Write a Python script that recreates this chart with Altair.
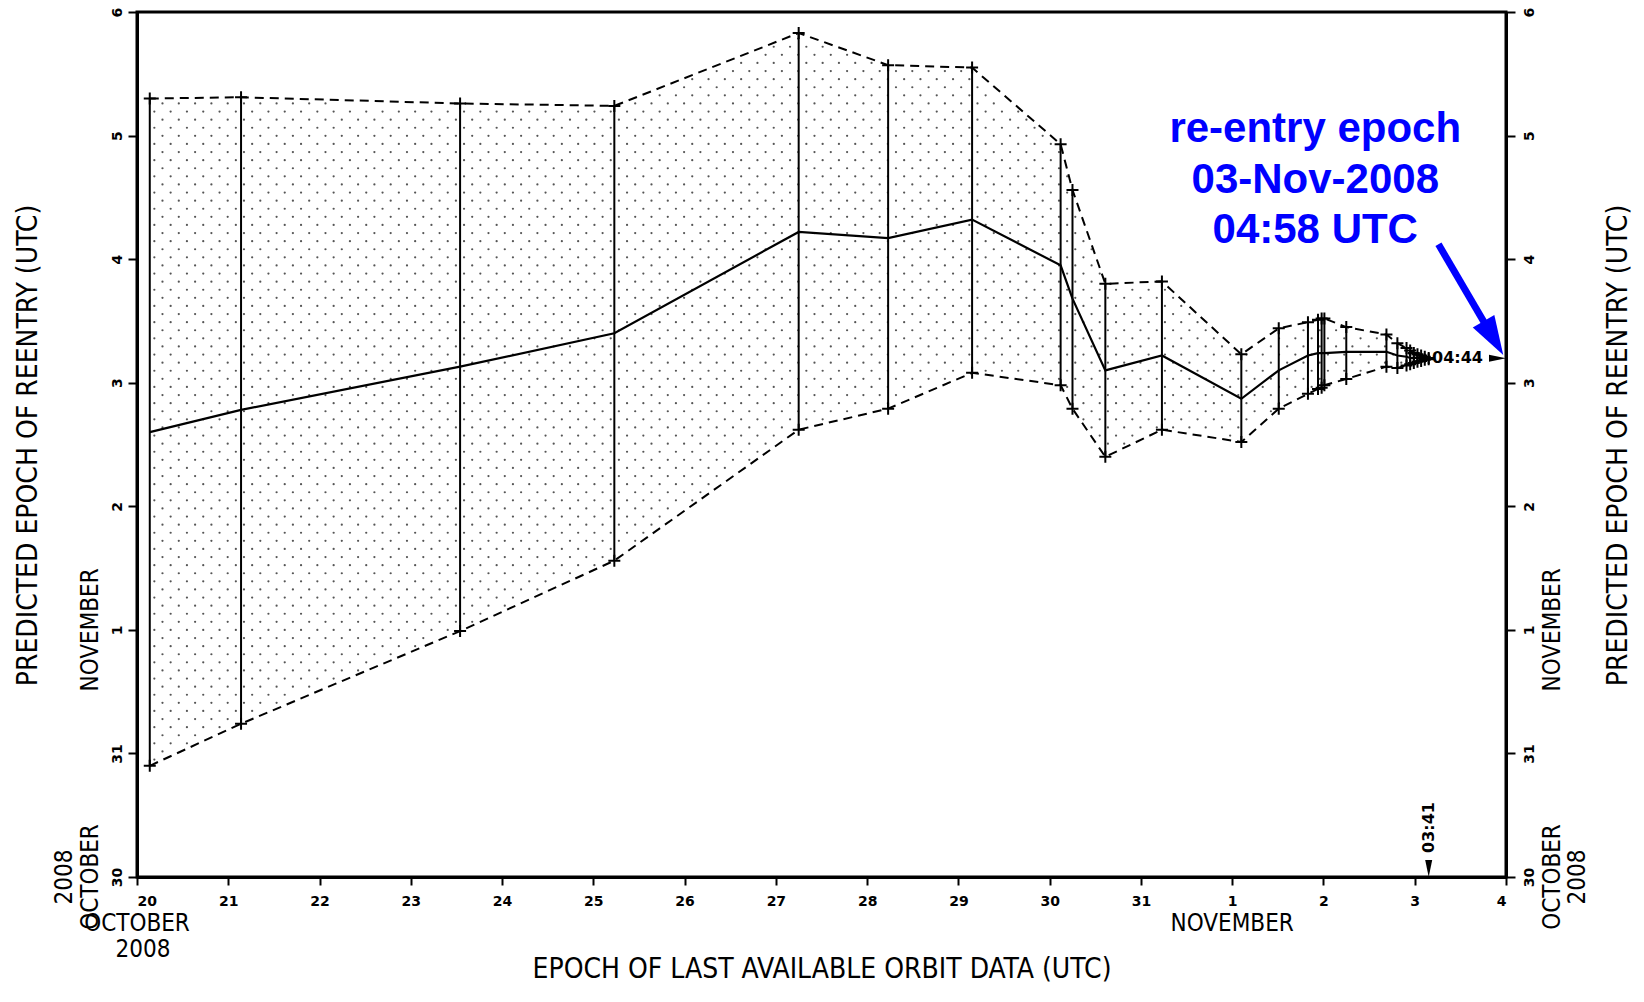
import json
import numpy as np
import pandas as pd
import altair as alt

# ---------------- data (x: days since 20 Oct 2008, y: days since 30 Oct 2008) ----------------
days  = [0.14, 1.14, 3.54, 5.23, 7.25, 8.23, 9.15, 10.12, 10.25, 10.61, 11.23, 12.10, 12.51,
         12.83, 12.94, 12.98, 13.01, 13.25, 13.69, 13.81, 13.91, 13.95, 13.99, 14.03, 14.07, 14.11, 14.153]
lower = [0.90, 1.24, 1.99, 2.56, 3.62, 3.79, 4.08, 3.98, 3.79, 3.40, 3.62, 3.52, 3.79,
         3.91, 3.95, 3.96, 3.98, 4.03, 4.13, 4.12, 4.14, 4.15, 4.16, 4.17, 4.175, 4.185, 4.19]
mean  = [3.60, 3.78, 4.13, 4.40, 5.22, 5.17, 5.32, 4.95, 4.68, 4.10, 4.22, 3.87, 4.10,
         4.22, 4.24, 4.24, 4.24, 4.25, 4.25, 4.22, 4.21, 4.20, 4.20, 4.20, 4.20, 4.20, 4.197]
upper = [6.30, 6.31, 6.26, 6.24, 6.83, 6.57, 6.55, 5.93, 5.56, 4.80, 4.82, 4.23, 4.44,
         4.49, 4.51, 4.52, 4.52, 4.45, 4.39, 4.32, 4.28, 4.26, 4.24, 4.23, 4.22, 4.21, 4.20]

x_tick_labels = ["20", "21", "22", "23", "24", "25", "26", "27", "28", "29", "30", "31", "1", "2", "3", "4"]
y_tick_labels = ["30", "31", "1", "2", "3", "4", "5", "6"]

last_epoch = 14.153      # 03-Nov 03:41
last_epoch_label = "03:41"
last_pred = 4.197        # 03-Nov 04:44
last_pred_label = "04:44"

annotation_lines = ["re-entry epoch", "03-Nov-2008", "04:58 UTC"]
annotation_pos = [12.91, 6.05]
arrow_start = [14.26, 5.12]
arrow_tip = [14.97, 4.225]

# ---------------- layout ----------------
W, H = 1369, 865
X_MAX, Y_MAX = 15, 7
px_x = W / X_MAX
px_y = H / Y_MAX

TITLE_FONT = "DejaVu Sans Condensed, Liberation Sans Narrow, DejaVu Sans, sans-serif"
NUM_FONT = "DejaVu Sans"

xscale = alt.Scale(domain=[0, X_MAX], nice=False, zero=False)
yscale = alt.Scale(domain=[0, Y_MAX], nice=False, zero=False)

x_axis = alt.Axis(
    orient="bottom",
    values=list(range(16)),
    labelExpr=json.dumps(x_tick_labels) + "[datum.value]",
    title="EPOCH OF LAST AVAILABLE ORBIT DATA (UTC)",
    titleFont=TITLE_FONT, titleFontSize=28, titleFontWeight="normal", titleColor="black",
    titleBaseline="alphabetic", titleAlign="center", titleX=W / 2, titleY=100,
    labelFont=NUM_FONT, labelFontSize=14, labelFontWeight="bold", labelColor="black",
    labelPadding=9, tickSize=8, tickWidth=2, tickColor="black",
    domainColor="black", domainWidth=3, grid=False,
)


def XE(field):
    return alt.X(field, type="quantitative", scale=xscale, axis=x_axis)


def YE(field, axis=None):
    return alt.Y(field, type="quantitative", scale=yscale, axis=axis)


def y_axis(orient):
    left = orient == "left"
    return alt.Axis(
        orient=orient,
        values=list(range(8)),
        labelExpr=json.dumps(y_tick_labels) + "[datum.value]",
        labelAngle=270, labelAlign="center",
        labelBaseline="alphabetic" if left else "top",
        labelPadding=7,
        labelFont=NUM_FONT, labelFontSize=14, labelFontWeight="bold", labelColor="black",
        tickSize=9, tickWidth=2, tickColor="black",
        domainColor="black", domainWidth=3, grid=False,
        title="PREDICTED EPOCH OF REENTRY (UTC)",
        titleFont=TITLE_FONT, titleFontSize=28, titleFontWeight="normal", titleColor="black",
        titleAngle=270, titleAlign="center", titleBaseline="middle",
        titleX=-109 if left else 112, titleY=433,
    )


df = pd.DataFrame({"x": days, "lo": lower, "mid": mean, "hi": upper})

# dotted fill texture between the upper and lower envelopes
dot_dx = 16.3 / px_x
dot_dy = 8.1 / px_y
gx, gy = [], []
row = 0
yv = dot_dy / 2
while yv < Y_MAX:
    xv = days[0] + 0.05 + (row % 2) * dot_dx / 2
    while xv < days[-1]:
        lo = np.interp(xv, days, lower)
        hi = np.interp(xv, days, upper)
        if lo + 0.03 < yv < hi - 0.03:
            gx.append(xv)
            gy.append(yv)
        xv += dot_dx
    yv += dot_dy
    row += 1
dots_df = pd.DataFrame({"x": gx, "y": gy})

base = alt.Chart(df)

dots = alt.Chart(dots_df).mark_circle(size=5, color="#555555", opacity=1).encode(
    x=XE("x"), y=YE("y"),
)

bars = base.mark_rule(color="black", strokeWidth=2).encode(
    x=XE("x"), y=YE("lo"), y2="hi:Q",
)

upper_line = base.mark_line(color="black", strokeWidth=2, strokeDash=[9, 6]).encode(
    x=XE("x"), y=YE("hi"),
)
lower_line = base.mark_line(color="black", strokeWidth=2, strokeDash=[9, 6]).encode(
    x=XE("x"), y=YE("lo"),
)
mean_line = base.mark_line(color="black", strokeWidth=2.2).encode(
    x=XE("x"), y=YE("mid", y_axis("left")),
)
right_axis_layer = base.mark_line(opacity=0).encode(
    x=XE("x"), y=YE("mid", y_axis("right")),
)

ends_df = pd.DataFrame({"x": days + days, "y": upper + lower})
crosses = alt.Chart(ends_df).mark_point(
    shape="M-1,0L1,0M0,-1L0,1", size=144, filled=False, color="black",
    strokeWidth=2, opacity=1,
).encode(x=XE("x"), y=YE("y"))

# last prediction marker on right axis
pred_df = pd.DataFrame({"x": [X_MAX], "y": [last_pred], "t": [last_pred_label]})
pred_tri = alt.Chart(pred_df).mark_point(
    shape="M0,0L-1.7,-0.35L-1.7,0.35Z", size=400, filled=True, color="black", opacity=1,
).encode(x=XE("x"), y=YE("y"))
pred_txt = alt.Chart(pred_df).mark_text(
    align="right", baseline="middle", dx=-23, font=NUM_FONT, fontSize=16, fontWeight="bold",
    color="black",
).encode(x=XE("x"), y=YE("y"), text="t:N")

# last epoch marker on bottom axis
ep_df = pd.DataFrame({"x": [last_epoch], "y": [0], "t": [last_epoch_label]})
ep_tri = alt.Chart(ep_df).mark_point(
    shape="M0,0L-0.35,-1.7L0.35,-1.7Z", size=400, filled=True, color="black", opacity=1,
).encode(x=XE("x"), y=YE("y"))
ep_txt = alt.Chart(ep_df).mark_text(
    align="left", baseline="middle", angle=270, dx=24, font=NUM_FONT, fontSize=16,
    fontWeight="bold", color="black",
).encode(x=XE("x"), y=YE("y"), text="t:N")

# month / year labels around the axes
month_style = dict(font=TITLE_FONT, fontSize=24, color="black", baseline="middle", align="center")
bottom_months = pd.DataFrame({"x": [0, 0.066, 12], "py": [912, 938, 912],
                              "t": ["OCTOBER", "2008", "NOVEMBER"]})
bottom_txt = alt.Chart(bottom_months).mark_text(**month_style).encode(
    x=XE("x"), y=alt.Y("py:Q", scale=None), text="t:N")

side_months = pd.DataFrame({
    "px": [-46, -46, -72, W + 47, W + 47, W + 72],
    "y": [2, 0, 0, 2, 0, 0],
    "t": ["NOVEMBER", "OCTOBER", "2008", "NOVEMBER", "OCTOBER", "2008"],
})
side_txt = alt.Chart(side_months).mark_text(angle=270, **month_style).encode(
    x=alt.X("px:Q", scale=None), y=YE("y"), text="t:N")

# blue annotation
ann_df = pd.DataFrame({"x": [annotation_pos[0]], "y": [annotation_pos[1]],
                       "t": ["\n".join(annotation_lines)]})
ann_txt = alt.Chart(ann_df).mark_text(
    font="Liberation Sans, Arial, sans-serif", fontSize=42, fontWeight="bold", color="#0000ff",
    align="center", baseline="middle", lineBreak="\n", lineHeight=50.5,
).encode(x=XE("x"), y=YE("y"), text="t:N")

# arrow geometry (screen direction from start to tip)
ddx = (arrow_tip[0] - arrow_start[0]) * px_x
ddy = (arrow_start[1] - arrow_tip[1]) * px_y
length = float(np.hypot(ddx, ddy))
ux, uy = ddx / length, ddy / length
back = 26.0
shaft_end = [arrow_tip[0] - ux * back / px_x, arrow_tip[1] + uy * back / px_y]
head_angle = float(180 - np.degrees(np.arctan2(ux, uy)))

shaft_df = pd.DataFrame({"x": [arrow_start[0]], "y": [arrow_start[1]],
                         "x2": [shaft_end[0]], "y2": [shaft_end[1]]})
shaft = alt.Chart(shaft_df).mark_rule(color="#0000ff", strokeWidth=7, strokeCap="butt").encode(
    x=XE("x"), y=YE("y"), x2="x2:Q", y2="y2:Q")
head_df = pd.DataFrame({"x": [arrow_tip[0]], "y": [arrow_tip[1]]})
head = alt.Chart(head_df).mark_point(
    shape="M0,0L1.25,3.9L-1.25,3.9Z", size=400, filled=True, color="#0000ff", opacity=1,
    angle=round(head_angle, 2),
).encode(x=XE("x"), y=YE("y"))

chart = alt.layer(
    dots, bars, upper_line, lower_line, mean_line, right_axis_layer, crosses,
    pred_txt, ep_tri, ep_txt, bottom_txt, side_txt, ann_txt, shaft, head, pred_tri,
).resolve_axis(y="independent").properties(
    width=W, height=H,
    autosize=alt.AutoSizeParams(type="none"),
    padding={"left": 129, "top": 4, "right": 128, "bottom": 110},
    background="white",
).configure_view(stroke="black", strokeWidth=3)

chart.save("out.html", embed_options={"renderer": "svg", "actions": False})
